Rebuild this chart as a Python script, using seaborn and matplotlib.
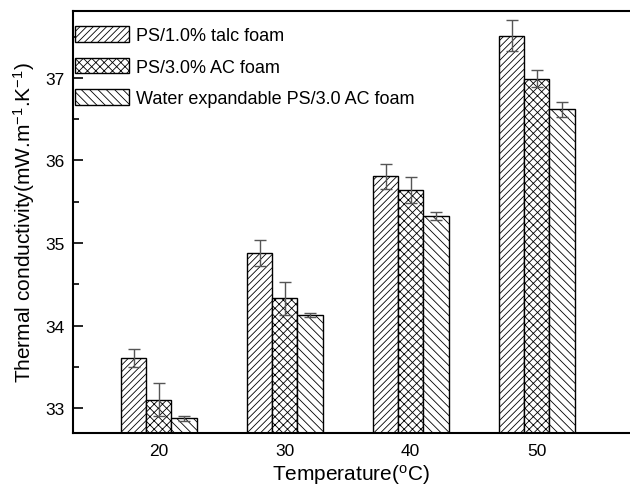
import pandas as pd
import seaborn as sns
import matplotlib.pyplot as plt
from matplotlib.ticker import MultipleLocator

# values
temps = ['20', '30', '40', '50']
series = ['PS/1.0% talc foam', 'PS/3.0% AC foam', 'Water expandable PS/3.0 AC foam']
talc = [33.61, 34.88, 35.81, 37.51]
talc_err = [0.11, 0.16, 0.15, 0.19]
ac = [33.10, 34.33, 35.64, 36.99]
ac_err = [0.20, 0.20, 0.16, 0.10]
water = [32.88, 34.13, 35.33, 36.62]
water_err = [0.03, 0.02, 0.05, 0.09]
hatches = ['/////', 'xxxx', '\\\\\\\\']

df = pd.DataFrame({
    'Temperature': temps * 3,
    'Series': [s for s in series for _ in temps],
    'Value': talc + ac + water,
})
errs = [talc_err, ac_err, water_err]

sns.set_style('ticks')
plt.rcParams['font.family'] = ['Liberation Sans', 'DejaVu Sans']
plt.rcParams['mathtext.default'] = 'regular'
plt.rcParams['text.color'] = 'black'
plt.rcParams['axes.labelcolor'] = 'black'
plt.rcParams['xtick.color'] = 'black'
plt.rcParams['ytick.color'] = 'black'
plt.rcParams['hatch.color'] = 'black'
plt.rcParams['hatch.linewidth'] = 0.6

fig = plt.figure(figsize=(6.3, 4.89), dpi=100)
ax = fig.add_axes([0.1159, 0.1125, 0.8841, 0.863])

sns.barplot(x='Temperature', y='Value', hue='Series', data=df, order=temps,
            hue_order=series, palette=['white'] * 3, edgecolor='black',
            linewidth=1.0, width=0.6, errorbar=None, ax=ax)

for cont, h, err in zip(ax.containers, hatches, errs):
    xs, ys = [], []
    for bar in cont:
        bar.set_hatch(h)
        xs.append(bar.get_x() + bar.get_width() / 2)
        ys.append(bar.get_height())
    ax.errorbar(xs, ys, yerr=err, fmt='none', ecolor='#555555',
                elinewidth=1.0, capsize=4.5, capthick=1.0, zorder=5)

ax.set_ylim(32.7, 37.81)
ax.set_xlim(-0.68, 3.74)
ax.yaxis.set_major_locator(MultipleLocator(1))
ax.yaxis.set_minor_locator(MultipleLocator(0.5))
ax.tick_params(axis='y', which='major', direction='in', length=7, width=1.2,
               labelsize=12.5, pad=6)
ax.tick_params(axis='y', which='minor', direction='in', length=4, width=1.2)
ax.tick_params(axis='x', length=0, labelsize=12.5, pad=7)
for s in ax.spines.values():
    s.set_linewidth(1.5)
    s.set_color('black')
ax.spines['right'].set_visible(False)

ax.set_xlabel('Temperature($^{o}$C)', fontsize=15, labelpad=3)
ax.set_ylabel('Thermal conductivity(mW.m$^{-1}$.K$^{-1}$)',
              fontsize=15, labelpad=6)

handles = [cont[0] for cont in ax.containers]
ax.legend(handles, series, loc='upper left', bbox_to_anchor=(0.004, 0.964),
          frameon=False, fontsize=13, handlelength=2.95, handleheight=0.95,
          labelspacing=0.75, handletextpad=0.4, borderaxespad=0, borderpad=0)

plt.savefig('out.png', dpi=100)
